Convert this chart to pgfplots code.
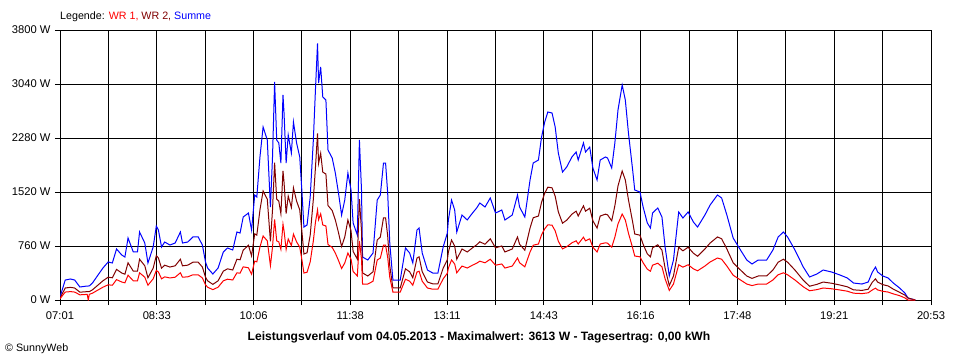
\documentclass[border=0pt]{standalone}
\usepackage{pgfplots}
\usepackage{pgfplotstable}
\pgfplotsset{compat=1.18}
\usepackage{fontspec}
\setmainfont{Liberation Sans}
\definecolor{wrone}{RGB}{255,0,0}
\definecolor{wrtwo}{RGB}{128,0,0}
\definecolor{summe}{RGB}{0,0,255}
% minutes after 07:01, power in W
\pgfplotstableread{
m wra wrb sum
0 17 25 42
5 112 169 281
10 118 178 296
14 112 169 281
19 73 110 183
26 79 118 197
27 0 118 197
28 80 118 198
31 96 143 239
35 130 194 324
41 180 270 450
46 214 321 535
50 208 313 521
54 287 431 718
59 253 380 633
62 242 363 605
65 349 524 873
70 270 406 676
74 270 406 676
76 383 574 957
81 321 481 802
84 208 313 521
89 298 448 746
92 416 625 1041
94 394 591 985
97 298 448 746
100 326 490 816
105 310 464 774
110 321 481 802
115 383 574 957
117 321 481 802
122 326 490 816
127 355 532 887
132 355 532 887
136 310 464 774
139 214 321 535
141 180 270 450
146 146 220 366
151 180 270 450
156 270 406 676
160 293 439 732
165 282 422 704
169 383 574 957
172 377 566 943
175 467 701 1168
180 453 771 1224
183 364 621 985
186 547 931 1478
188 537 913 1450
191 745 1268 2013
194 901 1534 2435
198 833 1419 2252
201 484 825 1309
203 745 1268 2013
205 1135 1933 3068
207 833 1419 2252
209 818 1392 2210
211 713 1215 1928
213 1067 1818 2885
214 974 1658 2632
216 713 1215 1928
218 859 1463 2322
221 766 1303 2069
223 927 1578 2505
226 818 1392 2210
229 745 1268 2013
231 573 975 1548
233 380 647 1027
236 391 665 1056
239 537 913 1450
242 833 1419 2252
244 1094 1862 2956
246 1267 2346 3613
247 1130 1924 3054
249 1213 2066 3279
251 1057 1800 2857
254 1042 1773 2815
256 781 1330 2111
260 740 1259 1999
263 661 1126 1787
266 557 949 1506
269 443 753 1196
272 521 886 1407
275 661 1126 1787
278 573 975 1548
280 401 683 1084
284 339 576 915
286 833 1419 2252
288 573 975 1548
289 224 381 605
294 225 338 563
299 264 397 661
303 563 844 1407
306 591 887 1478
309 771 1157 1928
311 771 1157 1928
313 602 904 1506
315 321 481 802
318 112 169 281
325 112 169 281
330 293 439 732
334 264 397 661
337 208 313 521
341 394 591 985
343 405 608 1013
346 264 397 661
351 169 253 422
356 152 228 380
361 152 228 380
366 298 448 746
370 377 566 943
371 450 676 1126
374 563 844 1407
377 507 760 1267
379 383 574 957
384 478 718 1196
389 450 676 1126
394 490 734 1224
398 518 777 1295
401 546 819 1365
406 524 785 1309
411 574 862 1436
416 490 734 1224
422 507 760 1267
425 450 676 1126
432 478 718 1196
437 591 887 1478
439 524 785 1309
444 467 701 1168
449 676 1013 1689
452 771 1157 1928
457 788 1182 1970
460 918 1376 2294
463 1002 1503 2505
466 1058 1588 2646
470 1053 1579 2632
473 974 1461 2435
476 828 1241 2069
480 720 1081 1801
484 749 1123 1872
489 805 1208 2013
493 833 1250 2083
495 788 1182 1970
500 884 1326 2210
502 833 1250 2083
506 861 1292 2153
509 743 1115 1858
513 676 1013 1689
516 788 1182 1970
521 805 1208 2013
523 800 1199 1999
527 743 1115 1858
530 884 1326 2210
533 1070 1604 2674
537 1210 1816 3026
540 1126 1689 2815
543 940 1410 2350
547 732 1098 1830
549 619 929 1548
554 608 912 1520
557 524 785 1309
561 434 650 1084
564 405 608 1013
566 490 734 1224
571 518 777 1295
575 467 701 1168
578 298 448 746
582 135 203 338
586 225 338 563
591 496 743 1239
595 462 692 1154
600 496 743 1239
605 439 659 1098
609 411 616 1027
616 478 718 1196
621 535 802 1337
628 591 887 1478
632 574 862 1436
637 478 718 1196
643 349 524 873
650 282 422 704
656 225 338 563
661 203 304 507
667 225 338 563
675 225 338 563
681 282 422 704
686 355 532 887
691 383 574 957
695 355 532 887
702 282 422 704
710 186 278 464
716 130 194 324
723 146 220 366
729 169 253 422
737 158 236 394
745 141 211 352
752 124 186 310
758 96 143 239
766 90 135 225
772 101 152 253
776 142 252 394
779 167 297 464
781 142 252 394
786 122 216 338
791 112 198 310
796 86 153 239
802 61 108 169
807 30 69 99
810 0 28 28
817 0 0 0
}\data
\begin{document}
\begin{tikzpicture}[x=1pt,y=1pt]
\useasboundingbox (0,0) rectangle (960,360);
\begin{axis}[
  at={(60pt,60pt)}, anchor=origin,
  scale only axis, width=871pt, height=270pt,
  xmin=0, xmax=832, ymin=0, ymax=3800,
  xtick={0,46.222,92.444,138.667,184.889,231.111,277.333,323.556,369.778,416,462.222,508.444,554.667,600.889,647.111,693.333,739.556,785.778,832},
  xticklabels={{07:01},{},{08:33},{},{10:06},{},{11:38},{},{13:11},{},{14:43},{},{16:16},{},{17:48},{},{19:21},{},{20:53}},
  ytick={0,760,1520,2280,3040,3800},
  yticklabels={{0 W},{760 W},{1520 W},{2280 W},{3040 W},{3800 W}},
  xtick pos=bottom, ytick pos=left,
  tick align=outside, major tick length=5pt,
  tick style={black, line width=1pt},
  grid=major, major grid style={black, line width=1pt},
  axis line style={black, line width=1pt},
  ticklabel style={font=\fontsize{11.2}{13}\selectfont},
  /pgf/number format/assume math mode=true,
  xticklabel style={yshift=-3pt},
  yticklabel style={xshift=-1pt},
  clip=true,
]
\addplot[summe, line width=1pt] table[x=m, y=sum] {\data};
\addplot[wrtwo, line width=1pt] table[x=m, y=wrb] {\data};
\addplot[wrone, line width=1pt] table[x=m, y=wra] {\data};
\end{axis}
\node[anchor=west, inner sep=0pt, font=\fontsize{10.7}{12}\selectfont] at (60,343) {Legende: \textcolor{wrone}{WR 1,} \textcolor{wrtwo}{WR 2,} \textcolor{summe}{Summe}};
\node[inner sep=0pt, font=\fontsize{12.1}{14}\selectfont\bfseries] at (479,23) {Leistungsverlauf vom 04.05.2013 - Maximalwert: 3613 W - Tagesertrag: 0,00 kWh};
\node[anchor=west, inner sep=0pt, font=\fontsize{10.7}{12}\selectfont] at (5,11) {© SunnyWeb};
\end{tikzpicture}
\end{document}
